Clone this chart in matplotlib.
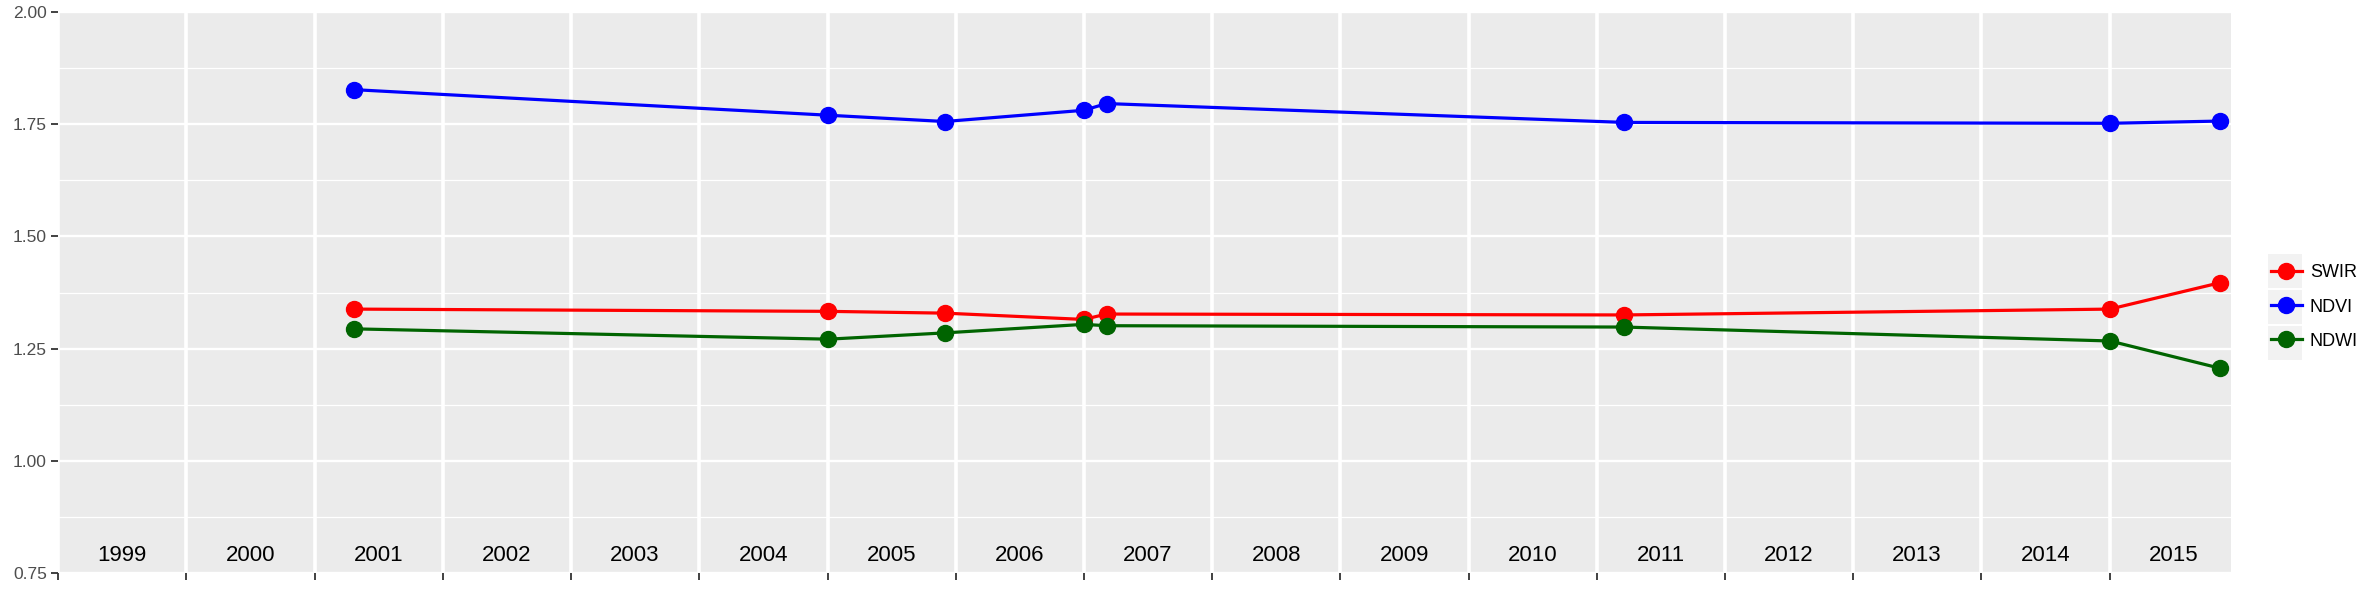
#!/usr/bin/env python3

import datetime as dt
import matplotlib
matplotlib.use("Agg")
import matplotlib.pyplot as plt
from matplotlib.patches import Rectangle
import numpy as np

plt.rcParams['font.family'] = ['Liberation Sans', 'DejaVu Sans']

# data
dates = ["2001-04-23", "2005-01-03", "2005-12-01", "2007-01-01",
         "2007-03-07", "2011-03-20", "2015-01-02", "2015-11-13"]
swir = [1.338, 1.333, 1.329, 1.315, 1.327, 1.325, 1.338, 1.397]
ndvi = [1.827, 1.770, 1.756, 1.781, 1.796, 1.754, 1.752, 1.757]
ndwi = [1.294, 1.271, 1.285, 1.304, 1.301, 1.298, 1.267, 1.206]
years = list(range(1999, 2016))

series = [("SWIR", swir, "#FF0000"),
          ("NDVI", ndvi, "#0000FF"),
          ("NDWI", ndwi, "#006400")]

x = [dt.datetime.strptime(d, "%Y-%m-%d") for d in dates]

fig = plt.figure(figsize=(23.78, 5.93), dpi=100)
ax = fig.add_axes([58 / 2378, 20 / 593, (2231 - 58) / 2378, (581 - 20) / 593])
ax.set_facecolor("#EBEBEB")

# grid
for v in np.arange(0.875, 2.0, 0.25):
    ax.axhline(v, color="white", lw=0.9, zorder=1)
for v in np.arange(0.75, 2.01, 0.25):
    ax.axhline(v, color="white", lw=1.7, zorder=1)
for yr in years:
    ax.axvline(dt.datetime(yr, 1, 1), color="white", lw=2.6, zorder=1)

for name, vals, col in series:
    ax.plot(x, vals, color=col, lw=2.3, marker="o", markersize=11.5,
            label=name, zorder=3)

# year labels inside the panel
for yr in years:
    ax.text(dt.datetime(yr, 7, 2), 0.79, str(yr), ha="center", va="center",
            fontsize=16, color="black", zorder=4)

ax.set_xlim(dt.datetime(1999, 1, 1), dt.datetime(2015, 12, 13))
ax.set_ylim(0.75, 2.0)
ax.set_xticks([dt.datetime(yr, 1, 1) for yr in years])
ax.set_xticklabels([])
ax.set_yticks(np.arange(0.75, 2.01, 0.25))
ax.set_yticklabels(["%.2f" % v for v in np.arange(0.75, 2.01, 0.25)])
ax.tick_params(axis="both", length=5, width=1.3, color="#333333",
               labelsize=12.5, labelcolor="#4D4D4D", pad=3)
for s in ax.spines.values():
    s.set_visible(False)

# legend key backgrounds
for i in range(3):
    y0 = 254 + i * 36
    fig.patches.append(Rectangle((2268 / 2378, 1 - (y0 + 34) / 593),
                                 34 / 2378, 34 / 593, transform=fig.transFigure,
                                 facecolor="#F2F2F2", edgecolor="none", zorder=0))

leg = fig.legend(loc="center left", bbox_to_anchor=(2262 / 2378, 1 - 307 / 593),
                 frameon=False, fontsize=13, handlelength=1.7, handletextpad=0.45,
                 labelspacing=0.95, borderpad=0)

fig.savefig("out.png", dpi=100)
